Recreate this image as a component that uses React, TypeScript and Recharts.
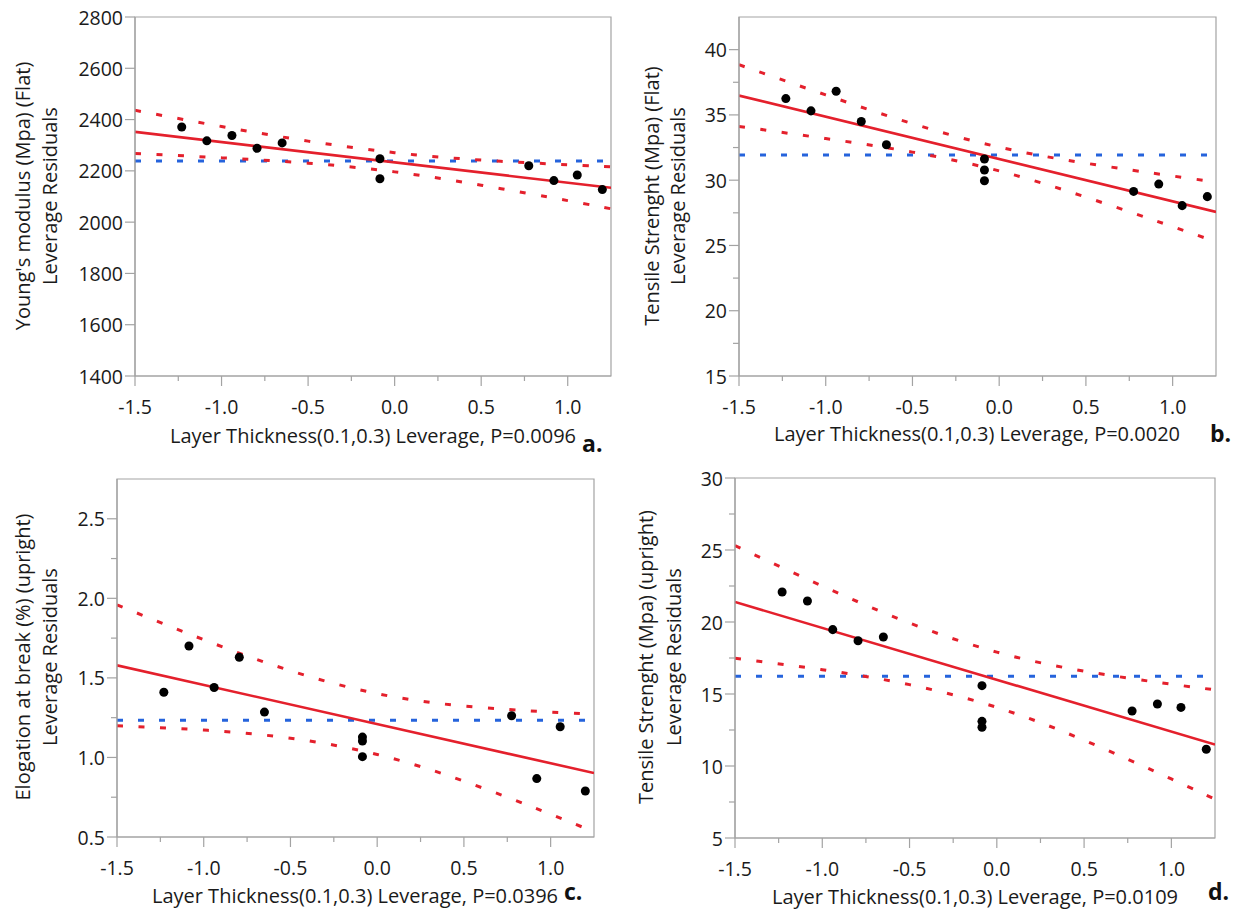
import { ComposedChart, Line, ReferenceArea, Scatter, XAxis, YAxis } from 'recharts';

const FONT = '"Open Sans", "Noto Sans", sans-serif';
const AXIS = '#a3a3a3';
const RED = '#e4202c';
const BLUE = '#2563dc';

// shared x positions (leverage of layer thickness)
const xTicks = [-1.5, -1.25, -1.0, -0.75, -0.5, -0.25, 0, 0.25, 0.5, 0.75, 1.0];
const bandX = [-1.5, -1.0, -0.5, 0.0, 0.5, 1.0, 1.25];
const fitX = [-1.5, 1.25];
const levX = [-1.23, -1.085, -0.94, -0.795, -0.65, -0.085, -0.085, -0.085, 0.775, 0.92, 1.055, 1.2];
const levXa = [-1.23, -1.085, -0.94, -0.795, -0.65, -0.085, -0.085, 0.775, 0.92, 1.055, 1.2];

// a. Young's modulus (Flat)
const youngY = [2371, 2317, 2338, 2288, 2309, 2247, 2169, 2220, 2162, 2184, 2127];
const youngFit = [2352, 2134];
const youngUpper = [2436, 2373, 2316, 2271, 2242, 2224, 2216];
const youngLower = [2268, 2251, 2230, 2196, 2144, 2084, 2052];
const youngMean = 2238;
const youngTicks = [1400, 1600, 1800, 2000, 2200, 2400, 2600, 2800];

// b. Tensile strenght (Flat)
const tensFlatY = [36.25, 35.31, 36.81, 34.5, 32.71, 31.62, 30.78, 29.96, 29.14, 29.7, 28.05, 28.74];
const tensFlatFit = [36.48, 27.57];
const tensFlatUpper = [38.84, 36.53, 34.33, 32.53, 31.3, 30.32, 29.86];
const tensFlatLower = [34.12, 33.19, 32.15, 30.71, 28.7, 26.44, 25.28];
const tensFlatMean = 31.92;
const tensFlatTicks = [15, 17.5, 20, 22.5, 25, 27.5, 30, 32.5, 35, 37.5, 40];

// c. Elongation at break (upright)
const elongY = [1.41, 1.7, 1.44, 1.63, 1.285, 1.128, 1.103, 1.005, 1.262, 0.867, 1.193, 0.789];
const elongFit = [1.579, 0.902];
const elongUpper = [1.959, 1.74, 1.545, 1.401, 1.323, 1.285, 1.272];
const elongLower = [1.199, 1.172, 1.121, 1.019, 0.851, 0.643, 0.532];
const elongMean = 1.233;
const elongTicks = [0.5, 0.75, 1.0, 1.25, 1.5, 1.75, 2.0, 2.25, 2.5];

// d. Tensile strenght (upright)
const tensUpY = [22.08, 21.46, 19.47, 18.7, 18.96, 15.58, 13.1, 12.69, 13.82, 14.31, 14.07, 11.16];
const tensUpFit = [21.39, 11.49];
const tensUpUpper = [25.3, 22.5, 19.93, 17.91, 16.59, 15.68, 15.29];
const tensUpLower = [17.48, 16.69, 15.65, 14.07, 11.79, 9.1, 7.69];
const tensUpMean = 16.23;
const tensUpTicks = [5, 7.5, 10, 12.5, 15, 17.5, 20, 22.5, 25, 27.5, 30];

const toPts = (xs: number[], ys: number[]) => xs.map((x, i) => ({ x, y: ys[i] }));

const isMultiple = (v: number, step: number) => Math.abs(v / step - Math.round(v / step)) < 1e-6;

function XTick(props: any) {
  const { x, y, payload } = props;
  const major = isMultiple(payload.value, 0.5);
  return (
    <g>
      <line x1={x} y1={y} x2={x} y2={y + (major ? 10 : 5)} stroke={AXIS} strokeWidth={1.2} />
      {major && (
        <text x={x} y={y + 30} textAnchor="middle" dominantBaseline="central" fontFamily={FONT} fontSize={19.5} fill="#1a1a1a">
          {payload.value.toFixed(1)}
        </text>
      )}
    </g>
  );
}

function makeYTick(step: number, decimals: number) {
  return function YTick(props: any) {
    const { x, y, payload } = props;
    const major = isMultiple(payload.value, step);
    return (
      <g>
        <line x1={x} y1={y} x2={x - (major ? 10 : 6)} y2={y} stroke={AXIS} strokeWidth={1.2} />
        {major && (
          <text x={x - 12} y={y} textAnchor="end" dominantBaseline="central" fontFamily={FONT} fontSize={19.5} fill="#1a1a1a">
            {payload.value.toFixed(decimals)}
          </text>
        )}
      </g>
    );
  };
}

type PanelProps = {
  left: number;
  top: number;
  height: number;
  axisW: number;
  right: number;
  mTop: number;
  xH: number;
  xs: number[];
  ys: number[];
  fit: number[];
  upper: number[];
  lower: number[];
  mean: number;
  yTicks: number[];
  yMax: number;
  step: number;
  decimals: number;
};

function Panel(p: PanelProps) {
  const yMin = p.yTicks[0];
  const dash = { stroke: RED, strokeWidth: 3, strokeDasharray: '6 15.5' };
  return (
    <div style={{ position: 'absolute', left: p.left, top: p.top }}>
      <ComposedChart width={620} height={p.height} margin={{ top: p.mTop, right: p.right, bottom: 0, left: 0 }}>
        <XAxis
          type="number"
          dataKey="x"
          domain={[-1.5, 1.25]}
          ticks={xTicks}
          allowDataOverflow
          height={p.xH}
          tickSize={0}
          tickMargin={0}
          tickLine={false}
          axisLine={{ stroke: AXIS, strokeWidth: 1.2 }}
          tick={<XTick />}
          interval={0}
        />
        <YAxis
          type="number"
          dataKey="y"
          domain={[yMin, p.yMax]}
          ticks={p.yTicks}
          allowDataOverflow
          width={p.axisW}
          tickSize={0}
          tickMargin={0}
          tickLine={false}
          axisLine={{ stroke: AXIS, strokeWidth: 1.2 }}
          tick={makeYTick(p.step, p.decimals)}
          interval={0}
        />
        <ReferenceArea x1={-1.5} x2={1.25} y1={yMin} y2={p.yMax} fill="none" stroke={AXIS} strokeWidth={1.2} />
        <Line data={toPts(fitX, [p.mean, p.mean])} dataKey="y" stroke={BLUE} strokeWidth={3} strokeDasharray="6 15" dot={false} isAnimationActive={false} />
        <Line data={toPts(bandX, p.upper)} dataKey="y" type="natural" {...dash} dot={false} isAnimationActive={false} />
        <Line data={toPts(bandX, p.lower)} dataKey="y" type="natural" {...dash} dot={false} isAnimationActive={false} />
        <Line data={toPts(fitX, p.fit)} dataKey="y" stroke={RED} strokeWidth={2.6} dot={false} isAnimationActive={false} />
        <Scatter data={toPts(p.xs, p.ys)} dataKey="y" fill="#000" isAnimationActive={false} />
      </ComposedChart>
    </div>
  );
}

const xTitle = 'Layer Thickness(0.1,0.3) Leverage, P=';

const titles = [
  { cx: 373, ty: 435, p: '0.0096', l1: "Young's modulus (Mpa) (Flat)", x1: 22, x2: 49, cy: 196, tag: 'a.', tx: 582, tagY: 452 },
  { cx: 977, ty: 433, p: '0.0020', l1: 'Tensile Strenght (Mpa) (Flat)', x1: 651, x2: 677, cy: 196, tag: 'b.', tx: 1210, tagY: 442 },
  { cx: 355, ty: 895, p: '0.0396', l1: 'Elogation at break (%) (upright)', x1: 22, x2: 49, cy: 657, tag: 'c.', tx: 564, tagY: 900 },
  { cx: 975, ty: 896, p: '0.0109', l1: 'Tensile Strenght (Mpa) (upright)', x1: 645, x2: 673, cy: 657, tag: 'd.', tx: 1208, tagY: 900 },
];

export default function App() {
  return (
    <div style={{ position: 'absolute', left: 0, top: 0, width: 1240, height: 909, background: '#fff', overflow: 'hidden' }}>
      <Panel left={0} top={0} height={450} axisW={135} right={9} mTop={17} xH={74} xs={levXa} ys={youngY} fit={youngFit} upper={youngUpper} lower={youngLower} mean={youngMean} yTicks={youngTicks} yMax={2800} step={200} decimals={0} />
      <Panel left={620} top={0} height={450} axisW={119} right={24} mTop={17} xH={74} xs={levX} ys={tensFlatY} fit={tensFlatFit} upper={tensFlatUpper} lower={tensFlatLower} mean={tensFlatMean} yTicks={tensFlatTicks} yMax={42.5} step={5} decimals={0} />
      <Panel left={0} top={450} height={459} axisW={117} right={26} mTop={29} xH={72} xs={levX} ys={elongY} fit={elongFit} upper={elongUpper} lower={elongLower} mean={elongMean} yTicks={elongTicks} yMax={2.75} step={0.5} decimals={1} />
      <Panel left={620} top={450} height={459} axisW={115} right={25} mTop={28} xH={71} xs={levX} ys={tensUpY} fit={tensUpFit} upper={tensUpUpper} lower={tensUpLower} mean={tensUpMean} yTicks={tensUpTicks} yMax={30} step={5} decimals={0} />
      <svg width={1240} height={909} style={{ position: 'absolute', left: 0, top: 0, pointerEvents: 'none' }}>
        {titles.map((t) => (
          <g key={t.tag} fontFamily={FONT} fill="#1a1a1a">
            <text x={t.cx} y={t.ty} textAnchor="middle" dominantBaseline="central" fontSize={20}>
              {xTitle + t.p}
            </text>
            <text x={t.x1} y={t.cy} textAnchor="middle" dominantBaseline="central" fontSize={20} transform={`rotate(-90 ${t.x1} ${t.cy})`}>
              {t.l1}
            </text>
            <text x={t.x2} y={t.cy} textAnchor="middle" dominantBaseline="central" fontSize={20} transform={`rotate(-90 ${t.x2} ${t.cy})`}>
              Leverage Residuals
            </text>
            <text x={t.tx} y={t.tagY} fontSize={23} fontWeight="bold" fill="#111">
              {t.tag}
            </text>
          </g>
        ))}
      </svg>
    </div>
  );
}
